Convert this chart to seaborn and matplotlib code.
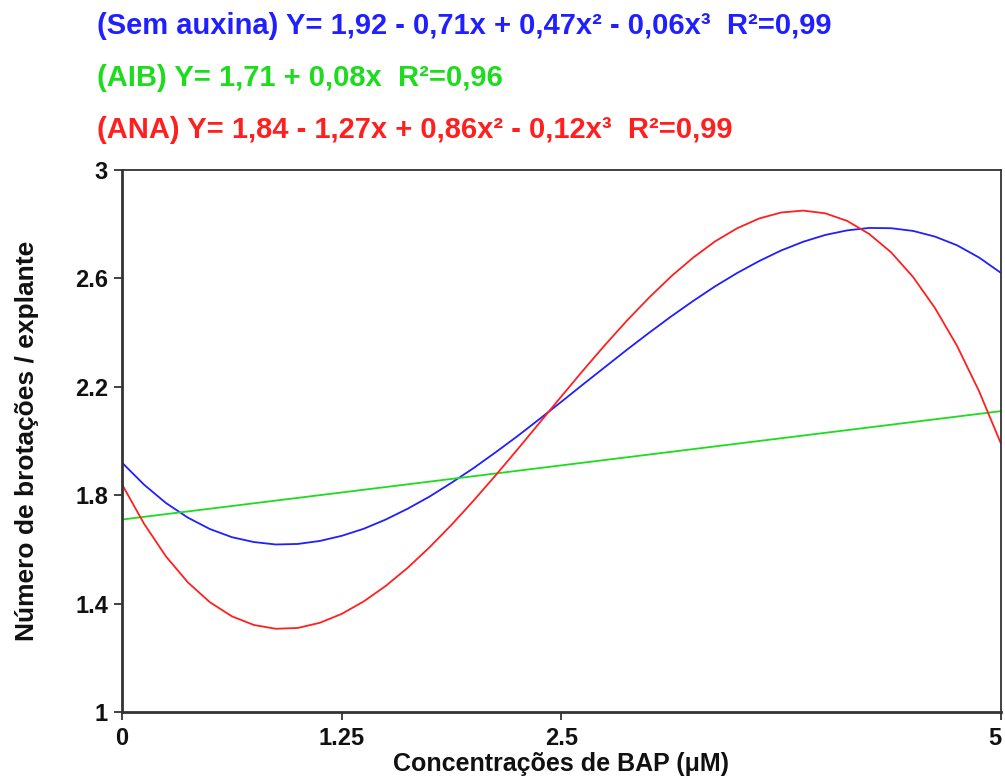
import matplotlib
matplotlib.use("Agg")
import matplotlib.pyplot as plt
import seaborn as sns
import pandas as pd

# ---- data ----
bap = [0.0, 0.125, 0.25, 0.375, 0.5, 0.625, 0.75, 0.875, 1.0, 1.125, 1.25,
       1.375, 1.5, 1.625, 1.75, 1.875, 2.0, 2.125, 2.25, 2.375, 2.5,
       2.625, 2.75, 2.875, 3.0, 3.125, 3.25, 3.375, 3.5, 3.625, 3.75,
       3.875, 4.0, 4.125, 4.25, 4.375, 4.5, 4.625, 4.75, 4.875, 5.0]
sem_auxina = [1.920, 1.839, 1.771, 1.717, 1.675, 1.645, 1.627, 1.618, 1.620, 1.631, 1.650,
              1.676, 1.710, 1.750, 1.795, 1.846, 1.900, 1.958, 2.018, 2.081, 2.145,
              2.210, 2.274, 2.338, 2.400, 2.460, 2.517, 2.571, 2.620, 2.664, 2.703,
              2.735, 2.760, 2.777, 2.786, 2.785, 2.775, 2.754, 2.722, 2.677, 2.620]
aib = [1.710, 1.720, 1.730, 1.740, 1.750, 1.760, 1.770, 1.780, 1.790, 1.800, 1.810,
       1.820, 1.830, 1.840, 1.850, 1.860, 1.870, 1.880, 1.890, 1.900, 1.910,
       1.920, 1.930, 1.940, 1.950, 1.960, 1.970, 1.980, 1.990, 2.000, 2.010,
       2.020, 2.030, 2.040, 2.050, 2.060, 2.070, 2.080, 2.090, 2.100, 2.110]
ana = [1.840, 1.695, 1.574, 1.478, 1.405, 1.353, 1.321, 1.307, 1.310, 1.329, 1.362,
       1.408, 1.465, 1.532, 1.608, 1.691, 1.780, 1.873, 1.969, 2.067, 2.165,
       2.262, 2.356, 2.446, 2.530, 2.608, 2.677, 2.737, 2.785, 2.821, 2.843,
       2.850, 2.840, 2.812, 2.764, 2.696, 2.605, 2.490, 2.351, 2.184, 1.990]
series_names = ["Sem auxina", "AIB", "ANA"]
x_ticks = [0, 1.25, 2.5, 5]
x_ticklabels = ["0", "1.25", "2.5", "5"]
y_ticks = [1, 1.4, 1.8, 2.2, 2.6, 3]
y_ticklabels = ["1", "1.4", "1.8", "2.2", "2.6", "3"]
eq_texts = [
    "(Sem auxina) Y= 1,92 - 0,71x + 0,47x² - 0,06x³  R²=0,99",
    "(AIB) Y= 1,71 + 0,08x  R²=0,96",
    "(ANA) Y= 1,84 - 1,27x + 0,86x² - 0,12x³  R²=0,99",
]

df = pd.concat([
    pd.DataFrame({"x": bap, "y": sem_auxina, "s": series_names[0]}),
    pd.DataFrame({"x": bap, "y": aib, "s": series_names[1]}),
    pd.DataFrame({"x": bap, "y": ana, "s": series_names[2]}),
])

sns.set_theme(style="white")
plt.rcParams["font.family"] = ["Liberation Sans", "DejaVu Sans"]

colors = ["#1f1fff", "#1ddc1d", "#ff1f1f"]
palette = dict(zip(series_names, colors))

fig = plt.figure(figsize=(10.05, 7.76), dpi=100)
ax = fig.add_axes([0.1214, 0.0825, 0.8746, 0.6985])
sns.lineplot(data=df, x="x", y="y", hue="s", palette=palette, ax=ax,
             linewidth=1.3, legend=False, sort=True)

ax.set_xlim(0, 5)
ax.set_ylim(1, 3)
ax.set_xticks(x_ticks)
ax.set_xticklabels(x_ticklabels)
ax.set_yticks(y_ticks)
ax.set_yticklabels(y_ticklabels)
ax.tick_params(axis="both", direction="out", length=6, width=1.3, color="#333333",
               labelsize=17, bottom=True, left=True)
ax.tick_params(axis="x", pad=5)
ax.tick_params(axis="y", pad=4)
for lab in ax.get_xticklabels() + ax.get_yticklabels():
    lab.set_fontweight("bold")
    lab.set_color("#111111")
# keep the last x tick label inside the figure
ax.get_xticklabels()[-1].set_horizontalalignment("right")

for side in ["left", "bottom"]:
    ax.spines[side].set_linewidth(2.0)
    ax.spines[side].set_color("#333333")
for side in ["top", "right"]:
    ax.spines[side].set_linewidth(1.3)
    ax.spines[side].set_color("#333333")

ax.set_xlabel("Concentrações de BAP (μM)", fontsize=18, fontweight="bold",
              color="#111111", labelpad=1)
ax.set_ylabel("Número de brotações / explante", fontsize=19, fontweight="bold",
              color="#111111", labelpad=26)

ys = [0.967, 0.900, 0.832]
for t, c, yy in zip(eq_texts, colors, ys):
    fig.text(0.097, yy, t, color=c, fontsize=21, fontweight="bold",
             ha="left", va="center")

fig.savefig("out.png", dpi=100)
